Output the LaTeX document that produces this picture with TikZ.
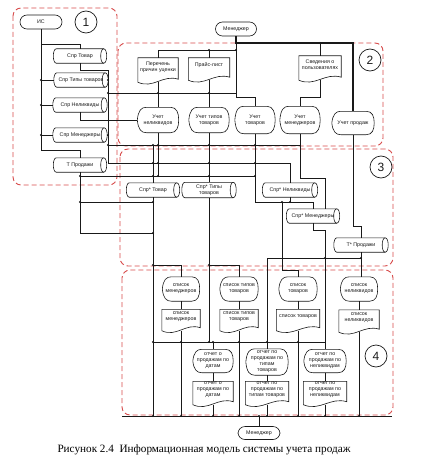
\documentclass[tikz,border=0pt]{standalone}
\usepackage{fontspec}
\setmainfont{Liberation Serif}
\newfontfamily\arfont{Liberation Sans}
\usetikzlibrary{calc,shapes.misc}
\definecolor{regred}{RGB}{215,75,75}
\definecolor{lncol}{RGB}{25,25,25}
\newcommand\cylshape[1]{%
 \draw[shp] ($(#1.north west)+(3,0)$) -- ($(#1.north east)+(-3,0)$)
   .. controls ($(#1.north east)+(1,0)$) and ($(#1.south east)+(1,0)$) .. ($(#1.south east)+(-3,0)$)
   -- ($(#1.south west)+(3,0)$)
   .. controls ($(#1.south west)+(-1,0)$) and ($(#1.north west)+(-1,0)$) .. ($(#1.north west)+(3,0)$);
 \draw[shp] ($(#1.north east)+(-3,0)$) .. controls ($(#1.north east)+(-7,0)$) and ($(#1.south east)+(-7,0)$) .. ($(#1.south east)+(-3,0)$);}
\newcommand\docshape[1]{%
 \draw[shp] (#1.south west) -- (#1.north west) -- (#1.north east) -- ($(#1.south east)+(0,-3)$)
  .. controls ($(#1.south west)!0.62!(#1.south east)+(0,-8)$) and ($(#1.south west)!0.38!(#1.south east)+(0,7)$) .. (#1.south west);}
\newcommand\dispshape[1]{%
 \draw[shp] (#1.west) .. controls ($(#1.north west)+(1,3)$) and ($(#1.north west)+(4,0)$) .. ($(#1.north west)+(9,0)$)
  -- ($(#1.north east)+(-8,0)$)
  .. controls ($(#1.north east)+(-2,0)$) and ($(#1.east)+(0,-7)$) .. (#1.east)
  .. controls ($(#1.east)+(0,7)$) and ($(#1.south east)+(-2,0)$) .. ($(#1.south east)+(-8,0)$)
  -- ($(#1.south west)+(9,0)$)
  .. controls ($(#1.south west)+(4,0)$) and ($(#1.south west)+(1,-3)$) .. (#1.west);}
\begin{document}
\begin{tikzpicture}[x=1pt,y=-1pt,
  every node/.style={font=\arfont\fontsize{5.3}{6}\selectfont, align=center, inner sep=0.5pt, text=lncol},
  shp/.style={draw=lncol, line width=0.6pt},
  ln/.style={draw=lncol, line width=0.55pt},
  thk/.style={draw=lncol, line width=1.1pt},
  region/.style={draw=regred, line width=0.9pt, dash pattern=on 5pt off 3pt, rounded corners=8pt},
  term/.style={rectangle, rounded corners=7pt, draw=lncol, line width=0.6pt, minimum width=42pt, minimum height=14pt},
  cylnode/.style={rectangle, minimum width=54pt, minimum height=14pt},
  docnode/.style={rectangle, minimum width=40pt, minimum height=22pt},
  dispnode/.style={rectangle, minimum width=39pt, minimum height=24pt},
  numcirc/.style={circle, draw=lncol, line width=0.7pt, minimum size=22pt, font=\arfont\fontsize{12}{12}\selectfont}
]
\useasboundingbox (0,0) rectangle (427,460);

% ---------- regions ----------
\draw[region] (13,8) rectangle (117,185);
\draw[region] (118,43) rectangle (383,146);
\draw[region] (120,149) rectangle (393,266);
\draw[region] (122,270) rectangle (393,415);
\node[numcirc] (n1) at (86,22) {1};
\node[numcirc] (n2) at (370,60) {2};
\node[numcirc] (n3) at (381,167) {3};
\node[numcirc] (n4) at (376,356) {4};

% ---------- region 1 ----------
\node[term] (is) at (41,22) {ИС};
\node[cylnode, minimum width=53pt] (c1) at (80,56) {Спр Товар};
\node[cylnode] (c2) at (81,80) {Спр Типы товаров};
\node[cylnode] (c3) at (80,105) {Спр Неликвиды};
\node[cylnode] (c4) at (80,135) {Спр Менеджеры};
\node[cylnode, minimum width=53pt] (c5) at (80,165) {Т Продажи};

% ---------- region 2 ----------
\node[term, minimum width=41pt] (mgr1) at (236,29) {Менеджер};
\node[docnode, minimum height=24pt] (d1) at (158,70) {Перечень\\причин уценки\\[1pt]};
\node[docnode, minimum width=41pt] (d2) at (209,69) {Прайс-лист\\[2pt]};
\node[docnode, minimum width=42pt, minimum height=24pt] (d3) at (320,68) {Сведения о\\пользователях\\[1pt]};
\node[dispnode, minimum width=41pt, minimum height=25pt] (u1) at (158,120) {Учет\\неликвидов};
\node[dispnode, minimum width=40pt, minimum height=25pt] (u2) at (209,120) {Учет типов\\товаров};
\node[dispnode, minimum width=40pt, minimum height=27pt] (u3) at (255,120) {Учет\\товаров};
\node[dispnode, minimum width=40pt, minimum height=27pt] (u4) at (300,120) {Учет\\менеджеров};
\node[dispnode, minimum width=42pt, minimum height=23pt] (u5) at (353,123) {Учет продаж};

% ---------- region 3 ----------
\node[cylnode, minimum width=53pt] (c6) at (153,190) {Спр* Товар};
\node[cylnode, minimum height=15pt] (c7) at (209,190) {Спр* Типы\\товаров};
\node[cylnode, minimum width=55pt] (c8) at (290,190) {Спр* Неликвиды};
\node[cylnode, minimum width=53pt] (c9) at (313,216) {Спр* Менеджеры};
\node[cylnode] (c10) at (361,245) {Т* Продажи};

% ---------- region 4 ----------
\node[dispnode, minimum width=37pt] (l1) at (181,289) {список\\менеджеров};
\node[dispnode, minimum width=38pt] (l2) at (239,289) {список типов\\товаров};
\node[dispnode, minimum width=38pt] (l3) at (298,289) {список\\товаров};
\node[dispnode, minimum width=37pt] (l4) at (359,289) {список\\неликвидов};
\node[docnode, minimum width=38pt, minimum height=21pt] (ld1) at (181,320) {список\\менеджеров\\[1pt]};
\node[docnode, minimum width=38pt, minimum height=21pt] (ld2) at (239,320) {список типов\\товаров\\[1pt]};
\node[docnode, minimum width=43pt, minimum height=21pt] (ld3) at (298,320) {список товаров\\[2pt]};
\node[docnode, minimum width=40pt, minimum height=22pt] (ld4) at (359,321) {список\\неликвидов\\[1pt]};
\node[dispnode, minimum width=40pt, minimum height=23pt] (r1) at (213,361) {отчет о\\продажам по\\датам};
\node[dispnode, minimum width=42pt, minimum height=26pt] (r2) at (267,362) {отчет по\\продажам по\\типам\\товаров};
\node[dispnode, minimum width=42pt, minimum height=23pt] (r3) at (325,361) {отчет по\\продажам по\\неликвидам};
\node[docnode, minimum width=40pt, minimum height=23pt] (rd1) at (213,393) {отчет о\\продажам по\\датам\\[1pt]};
\node[docnode, minimum width=43pt, minimum height=23pt] (rd2) at (267,393) {отчет по\\продажам по\\типам товаров\\[1pt]};
\node[docnode, minimum width=43pt, minimum height=23pt] (rd3) at (325,393) {отчет по\\продажам по\\неликвидам\\[1pt]};
\node[term, minimum width=42pt, minimum height=13pt] (mgr2) at (259,433) {Менеджер};

\node[font=\rmfamily\fontsize{11.2}{13}\selectfont, text=black] (cap) at (204,450) {Рисунок 2.4\ \ Информационная модель системы учета продаж};

% ---------- shape outlines ----------
\foreach \n in {c1,c2,c3,c4,c5,c6,c7,c8,c9,c10} {\cylshape{\n}}
\foreach \n in {d1,d2,d3,ld1,ld2,ld3,ld4,rd1,rd2,rd3} {\docshape{\n}}
\foreach \n in {u1,u2,u3,u4,u5,l1,l2,l3,l4,r1,r2,r3} {\dispshape{\n}}

% ---------- coordinates ----------
\coordinate (t44) at (41,44);
\coordinate (j1) at (41,150);
\coordinate (b70) at (108,70);
\coordinate (b93) at (108,93);
\coordinate (e93) at (237,93);
\coordinate (b145) at (108,145);
\coordinate (e145) at (300,145);
\coordinate (b163) at (108,163);
\coordinate (e163) at (290,163);
\coordinate (k176) at (80,176);
\coordinate (e176) at (255,176);
\coordinate (k202) at (80,202);
\coordinate (k233) at (80,233);
\coordinate (m43) at (236,43);
\coordinate (e43) at (353,43);
\coordinate (m50) at (236,50);
\coordinate (m97) at (236,97);
\coordinate (q97) at (320,97);
\coordinate (h202) at (255,202);
\coordinate (h202e) at (313,202);
\coordinate (g202) at (282,202);
\coordinate (g270) at (282,270);
\coordinate (w178) at (300,178);
\coordinate (w178e) at (325,178);
\coordinate (v226) at (353,226);
\coordinate (s230) at (313,230);
\coordinate (s230e) at (325,230);
\coordinate (y258a) at (267,258);
\coordinate (y258b) at (361,258);
\coordinate (f265) at (153,265);
\coordinate (f265b) at (209,265);
\coordinate (bus342a) at (153,342);
\coordinate (bus342b) at (325,342);
\coordinate (bus416a) at (122,416);
\coordinate (bus416b) at (392,416);
\coordinate (o416) at (259,416);

% ---------- region 1 connectors ----------
\draw[ln] (is.south) -- (j1) -| (c5.north);
\draw[ln] (t44) -| (c1.north);
\draw[ln] (is.south |- c2.west) -- (c2.west);
\draw[ln] (is.south |- c3.west) -- (c3.west);
\draw[ln] (is.south |- c4.west) -- (c4.west);
\draw[ln] (c1.south) |- (b70) -- (b163);
\draw[ln] (c2.east) -- (c2.east -| b70);
\draw[ln] (c4.east) -- (c4.east -| b70);
\draw[ln] (c3.south) |- (u1.west);

% ---------- region 2 connectors ----------
\draw[thk] (mgr1.south) -- (m43) -- (e43) -- (u5.north);
\draw[ln] (m43) -- (m50) -| (d1.north);
\draw[ln] (d2.north) -- (d2.north |- m50);
\draw[ln] (d3.north) -- (d3.north |- m43);
\draw[ln] (m50) -- (m97) -| (u3.north);
\draw[ln] (d3.south) -- (q97) -| (u4.north);
\draw[ln] (b93) -- (e93);
\draw[ln] (d1.south) -- (u1.north);
\draw[ln] (d2.south) -- (u2.north);

% ---------- region 3 connectors ----------
\draw[ln] (b145) -- (e145);
\draw[ln] (b163) -- (e163) -- (c8.north);
\draw[ln] (k176) -- (e176);
\draw[ln] (u1.south) -- (u1.south |- k176);
\draw[ln] (c6.north |- b145) -- (c6.north);
\draw[ln] (u2.south) -- (c7.north);
\draw[ln] (u3.south) -- (h202) -- (h202e) -- (c9.north);
\draw[ln] (c8.south) -- (c8.south |- h202);
\draw[ln] (g202) -- (g270) -| (l3.north);
\draw[ln] (u4.south) -- (w178) -- (w178e) -- (w178e |- c9.north);
\draw[ln] (u5.south) -- (v226) -| (c10.north);
\draw[ln] (c10.south) -- (c10.south |- l4.north);
\draw[ln] (c5.south) -- (k233) -- (k233 -| c6.south);
\draw[ln] (k202) -- (k202 -| c6.south);
\draw[ln] (c9.south) -- (s230) -- (s230e) -- (r3.north);
\draw[ln] (y258a) -- (y258b);
\draw[ln] (y258a) -- (r2.north);

% ---------- region 4 connectors ----------
\draw[ln] (c6.south) -- (c6.south |- bus416a);
\draw[ln] (f265) -| (l1.north);
\draw[ln] (c7.south) -- (c7.south |- bus342a);
\draw[ln] (f265b) -| (l2.north);
\draw[ln] (bus342a) -- (bus342b);
\draw[ln] (r1.north |- bus342a) -- (r1.north);
\foreach \a/\b in {l1/ld1,l2/ld2,l3/ld3,l4/ld4,r1/rd1,r2/rd2,r3/rd3}
  {\draw[ln] (\a.south) -- (\b.north);}
\foreach \b in {ld1,ld2,ld3,ld4,rd1,rd2,rd3}
  {\draw[ln] (\b.south) -- (\b.south |- bus416a);}
\draw[ln] (bus416a) -- (bus416b);
\draw[ln] (o416) -- (mgr2.north);

% ---------- junction dots ----------
\foreach \p in {(41,80),(41,105),(41,135),(108,80),(108,93),(108,135),(108,145),
  (158,93),(209,93),(236,43),(236,50),(209,50),(320,43),
  (153,145),(158,145),(209,145),(255,145),(153,163),(158,163),(209,163),(255,163),
  (80,176),(153,176),(158,176),(209,176),(255,176),(80,202),(153,202),(153,233),
  (282,202),(290,202),(153,265),(209,265),(325,258),(361,258),
  (153,342),(181,342),(209,342),(213,342),(239,342),(267,342),(298,342),
  (153,416),(181,416),(213,416),(239,416),(267,416),(298,416),(325,416),(359,416),(259,416)}
  {\fill[lncol] \p circle (1.1pt);}
\end{tikzpicture}
\end{document}
